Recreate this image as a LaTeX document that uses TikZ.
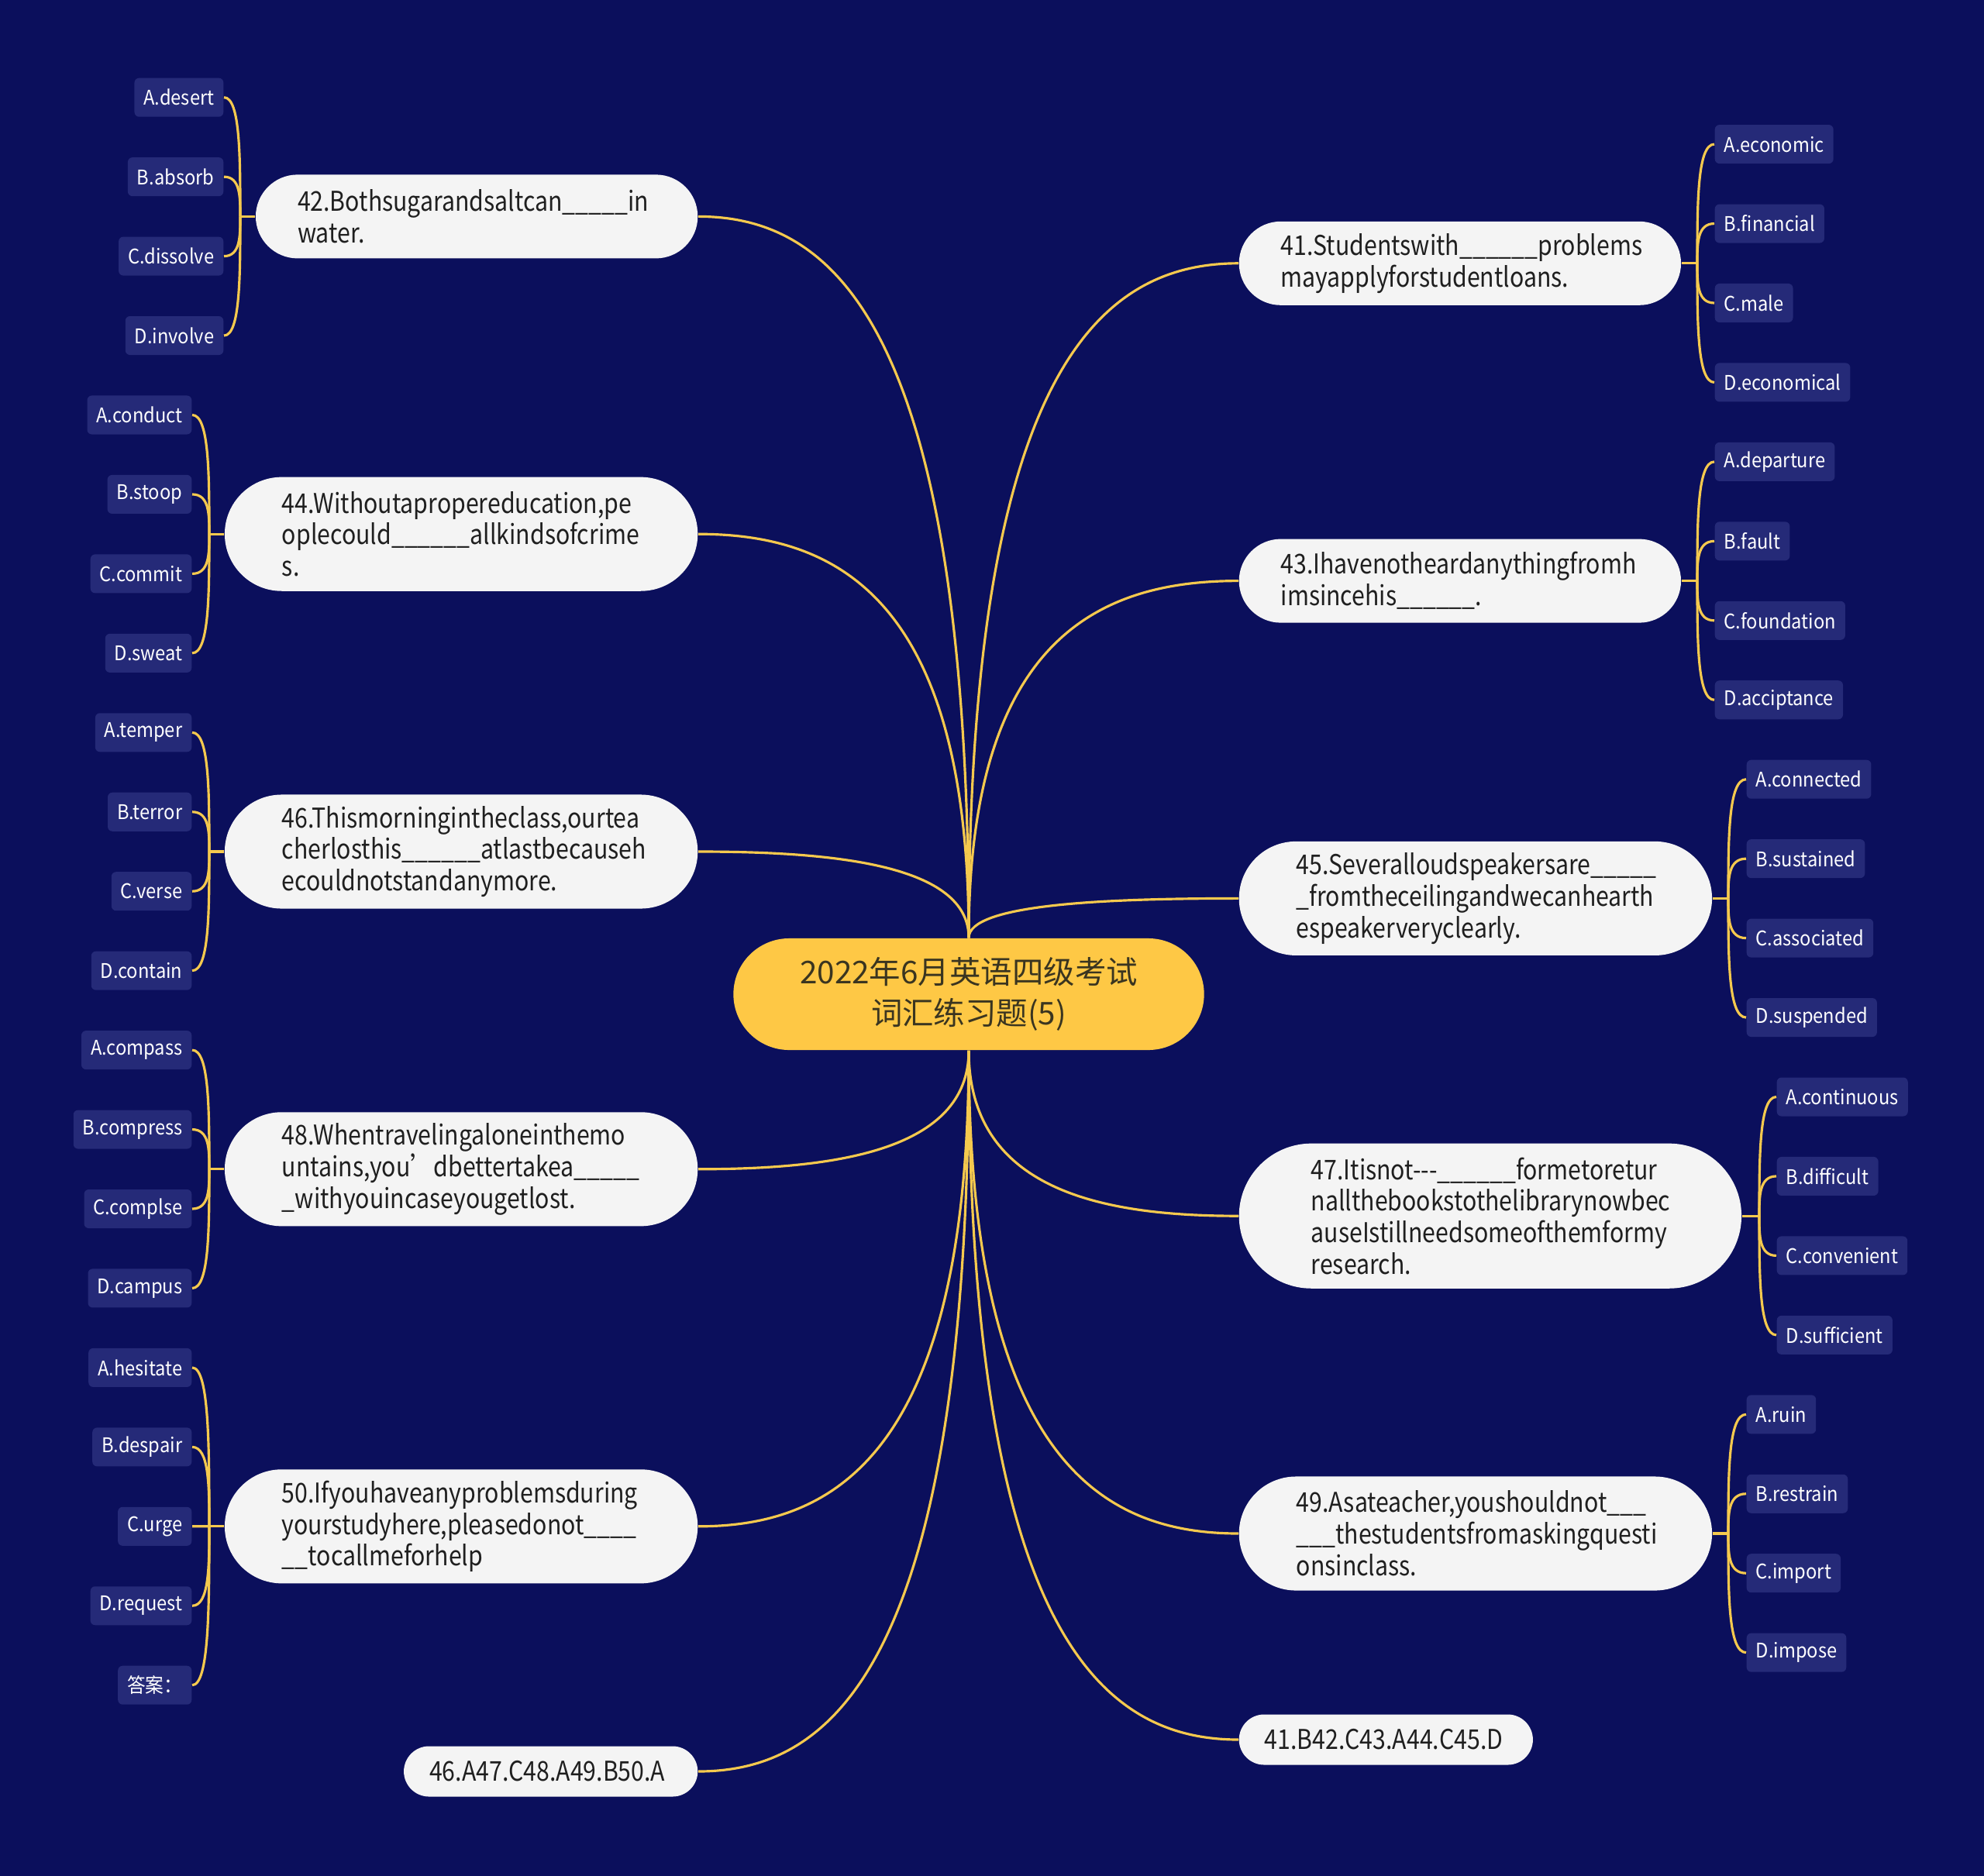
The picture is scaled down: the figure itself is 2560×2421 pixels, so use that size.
\documentclass[tikz,border=0pt]{standalone}
\usepackage{fontspec}
\setmainfont{Noto Sans CJK SC}
\newfontfamily\qfont[FakeStretch=0.86]{Noto Sans CJK SC}
\newfontfamily\lfont[FakeStretch=0.91]{Noto Sans CJK SC}
\usetikzlibrary{calc}
\definecolor{bgblue}{HTML}{0B0F5C}
\definecolor{leafblue}{HTML}{252A78}
\definecolor{linkyellow}{HTML}{F5C94E}
\definecolor{rootyellow}{HTML}{FEC845}
\definecolor{roottext}{HTML}{3A3520}
\definecolor{qwhite}{HTML}{F4F4F4}
\definecolor{qtext}{HTML}{1F1F1F}
\hyphenpenalty=10000
\exhyphenpenalty=10000
\tikzset{
  link/.style={draw=linkyellow, line width=0.9pt},
  root/.style={fill=rootyellow, text=roottext, align=center, minimum width=6.07cm,
    minimum height=1.44cm, rounded corners=0.72cm, font=\fontsize{11.5}{14.9}\selectfont},
  leaf/.style={fill=leafblue, text=white, rounded corners=0.06cm, inner xsep=0.12cm,
    inner ysep=0pt, minimum height=0.5cm, font=\lfont\fontsize{7.4}{8.9}\selectfont},
  qbox/.style={fill=qwhite, text=qtext, align=left, text width=4.62cm, inner ysep=0pt,
    font=\qfont\fontsize{10}{11.6}\selectfont},
  q1/.style={minimum height=0.65cm, inner xsep=0.33cm, rounded corners=0.325cm},
  q2/.style={minimum height=1.08cm, inner xsep=0.54cm, rounded corners=0.54cm},
  q3/.style={minimum height=1.47cm, inner xsep=0.74cm, rounded corners=0.735cm},
  q4/.style={minimum height=1.87cm, inner xsep=0.93cm, rounded corners=0.935cm},
}
\begin{document}
\begin{tikzpicture}[x=0.01cm,y=-0.01cm]
    \useasboundingbox (0,0) rectangle (2560,2421);
    \fill[bgblue] (0,0) rectangle (2560,2421);

    \node[root] (root) at (1250,1283) {2022年6月英语四级考试\\词汇练习题(5)};

    \node[qbox,q2,anchor=east] (q42) at (901,279.4) {42.Bothsugarandsaltcan\_\_\_\_\_in\\water.};
    \coordinate (j42) at (310,279.4);
    \draw[link] (q42.west) -- (j42);
    \foreach \k/\t in {0/A.desert,1/B.absorb,2/C.dissolve,3/D.involve}{
      \node[leaf,anchor=east] (l\k) at (289,{125.7+102.45*\k}) {\t};
      \draw[link] (j42) .. controls ($(j42)!0.5!(j42 |- l\k.east)$) and (j42 |- l\k.east) .. (l\k.east);
    }

    \node[qbox,q3,anchor=east] (q44) at (901,689.2) {44.Withoutapropereducation,pe\\oplecould\_\_\_\_\_\_allkindsofcrime\\s.};
    \coordinate (j44) at (270,689.2);
    \draw[link] (q44.west) -- (j44);
    \foreach \k/\t in {4/A.conduct,5/B.stoop,6/C.commit,7/D.sweat}{
      \node[leaf,anchor=east] (l\k) at (248,{125.7+102.45*\k}) {\t};
      \draw[link] (j44) .. controls ($(j44)!0.5!(j44 |- l\k.east)$) and (j44 |- l\k.east) .. (l\k.east);
    }

    \node[qbox,q3,anchor=east] (q46) at (901,1099) {46.Thismorningintheclass,ourtea\\cherlosthis\_\_\_\_\_\_atlastbecauseh\\ecouldnotstandanymore.};
    \coordinate (j46) at (270,1099);
    \draw[link] (q46.west) -- (j46);
    \foreach \k/\t in {8/A.temper,9/B.terror,10/C.verse,11/D.contain}{
      \node[leaf,anchor=east] (l\k) at (248,{125.7+102.45*\k}) {\t};
      \draw[link] (j46) .. controls ($(j46)!0.5!(j46 |- l\k.east)$) and (j46 |- l\k.east) .. (l\k.east);
    }

    \node[qbox,q3,anchor=east] (q48) at (901,1508.8) {48.Whentravelingaloneinthemo\\untains,you’dbettertakea\_\_\_\_\_\\\_withyouincaseyougetlost.};
    \coordinate (j48) at (270,1508.8);
    \draw[link] (q48.west) -- (j48);
    \foreach \k/\t in {12/A.compass,13/B.compress,14/C.complse,15/D.campus}{
      \node[leaf,anchor=east] (l\k) at (248,{125.7+102.45*\k}) {\t};
      \draw[link] (j48) .. controls ($(j48)!0.5!(j48 |- l\k.east)$) and (j48 |- l\k.east) .. (l\k.east);
    }

    \node[qbox,q3,anchor=east] (q50) at (901,1969.8) {50.Ifyouhaveanyproblemsduring\\yourstudyhere,pleasedonot\_\_\_\_\\\_\_tocallmeforhelp};
    \coordinate (j50) at (270,1969.8);
    \draw[link] (q50.west) -- (j50);
    \foreach \k/\t in {16/A.hesitate,17/B.despair,18/C.urge,19/D.request,20/答案：}{
      \node[leaf,anchor=east] (l\k) at (248,{125.7+102.45*\k}) {\t};
      \draw[link] (j50) .. controls ($(j50)!0.5!(j50 |- l\k.east)$) and (j50 |- l\k.east) .. (l\k.east);
    }

    \node[qbox,q1,text width=3.13cm,anchor=east] (a2) at (901,2286) {46.A47.C48.A49.B50.A};

    \node[qbox,q2,anchor=west] (q41) at (1598,339.8) {41.Studentswith\_\_\_\_\_\_problems\\mayapplyforstudentloans.};
    \coordinate (j41) at (2190,339.8);
    \draw[link] (q41.east) -- (j41);
    \foreach \k/\t in {0/A.economic,1/B.financial,2/C.male,3/D.economical}{
      \node[leaf,anchor=west] (r\k) at (2212,{186.1+102.45*\k}) {\t};
      \draw[link] (j41) .. controls ($(j41)!0.5!(j41 |- r\k.west)$) and (j41 |- r\k.west) .. (r\k.west);
    }

    \node[qbox,q2,anchor=west] (q43) at (1598,749.6) {43.Ihavenotheardanythingfromh\\imsincehis\_\_\_\_\_\_.};
    \coordinate (j43) at (2190,749.6);
    \draw[link] (q43.east) -- (j43);
    \foreach \k/\t in {4/A.departure,5/B.fault,6/C.foundation,7/D.acciptance}{
      \node[leaf,anchor=west] (r\k) at (2212,{186.1+102.45*\k}) {\t};
      \draw[link] (j43) .. controls ($(j43)!0.5!(j43 |- r\k.west)$) and (j43 |- r\k.west) .. (r\k.west);
    }

    \node[qbox,q3,anchor=west] (q45) at (1598,1159.4) {45.Severalloudspeakersare\_\_\_\_\_\\\_fromtheceilingandwecanhearth\\espeakerveryclearly.};
    \coordinate (j45) at (2230,1159.4);
    \draw[link] (q45.east) -- (j45);
    \foreach \k/\t in {8/A.connected,9/B.sustained,10/C.associated,11/D.suspended}{
      \node[leaf,anchor=west] (r\k) at (2253,{186.1+102.45*\k}) {\t};
      \draw[link] (j45) .. controls ($(j45)!0.5!(j45 |- r\k.west)$) and (j45 |- r\k.west) .. (r\k.west);
    }

    \node[qbox,q4,anchor=west] (q47) at (1598,1569.2) {47.Itisnot-{}-{}-\_\_\_\_\_\_formetoretur\\nallthebookstothelibrarynowbec\\auseIstillneedsomeofthemformy\\research.};
    \coordinate (j47) at (2270,1569.2);
    \draw[link] (q47.east) -- (j47);
    \foreach \k/\t in {12/A.continuous,13/B.difficult,14/C.convenient,15/D.sufficient}{
      \node[leaf,anchor=west] (r\k) at (2292,{186.1+102.45*\k}) {\t};
      \draw[link] (j47) .. controls ($(j47)!0.5!(j47 |- r\k.west)$) and (j47 |- r\k.west) .. (r\k.west);
    }

    \node[qbox,q3,anchor=west] (q49) at (1598,1979) {49.Asateacher,youshouldnot\_\_\_\\\_\_\_thestudentsfromaskingquesti\\onsinclass.};
    \coordinate (j49) at (2230,1979);
    \draw[link] (q49.east) -- (j49);
    \foreach \k/\t in {16/A.ruin,17/B.restrain,18/C.import,19/D.impose}{
      \node[leaf,anchor=west] (r\k) at (2253,{186.1+102.45*\k}) {\t};
      \draw[link] (j49) .. controls ($(j49)!0.5!(j49 |- r\k.west)$) and (j49 |- r\k.west) .. (r\k.west);
    }

    \node[qbox,q1,text width=3.13cm,anchor=west] (a1) at (1598,2245) {41.B42.C43.A44.C45.D};

    \foreach \q/\a in {q42/north,q44/north,q46/north,q48/south,q50/south,a2/south}{
      \draw[link] (root.\a) .. controls ($(root.\a)!0.85!(root.\a |- \q.east)$) and ($(\q.east)!0.5!(root |- \q.east)$) .. (\q.east);
    }
    \foreach \q/\a in {q41/north,q43/north,q45/north,q47/south,q49/south,a1/south}{
      \draw[link] (root.\a) .. controls ($(root.\a)!0.85!(root.\a |- \q.west)$) and ($(\q.west)!0.5!(root |- \q.west)$) .. (\q.west);
    }
\end{tikzpicture}
\end{document}
